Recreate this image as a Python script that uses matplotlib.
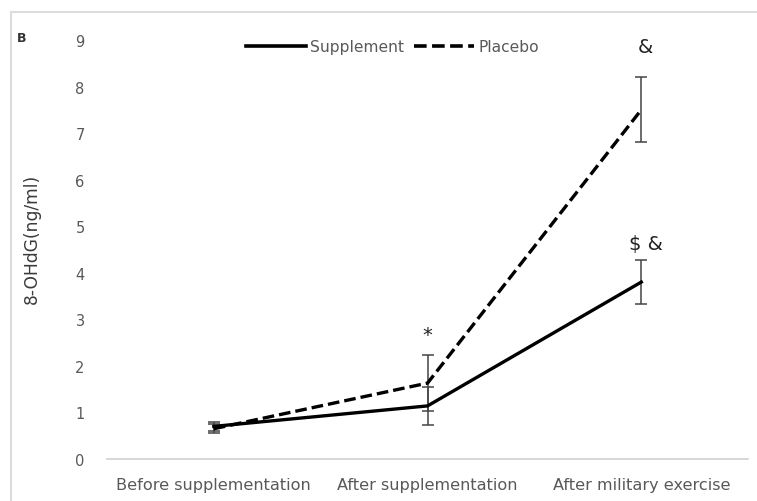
import matplotlib.pyplot as plt
from matplotlib.lines import Line2D

# 8-OHdG values per time point
stages = ['Before supplementation', 'After supplementation', 'After military exercise']
supplement = [0.70, 1.14, 3.80]
supplement_err = [0.10, 0.40, 0.47]
placebo = [0.65, 1.63, 7.50]
placebo_err = [0.10, 0.60, 0.70]
marks = ['', '*', '&']           # above placebo points
marks_supp = ['', '', '$ &']     # above supplement points

plt.rcParams['font.family'] = ['DejaVu Sans']

fig = plt.figure(figsize=(7.57, 5.02), dpi=100)
ax = fig.add_axes([0.1413, 0.0837, 0.847, 0.8347])

x = [0.5, 1.5, 2.5]
ax.errorbar(x, supplement, yerr=supplement_err, color='black', lw=2.4,
            ecolor='#444444', elinewidth=1.1, capsize=4, capthick=1.1, label='Supplement')
ax.errorbar(x, placebo, yerr=placebo_err, color='black', lw=2.4, ls=(0, (3.5, 1.5)),
            ecolor='#444444', elinewidth=1.1, capsize=4, capthick=1.1, label='Placebo')

ax.text(x[1], placebo[1] + placebo_err[1] + 0.45, marks[1], ha='center', va='center',
        fontsize=14, color='#222222')
ax.text(x[2] + 0.02, placebo[2] + placebo_err[2] + 0.65, marks[2], ha='center', va='center',
        fontsize=14, color='#222222')
ax.text(x[2] + 0.02, supplement[2] + supplement_err[2] + 0.35, marks_supp[2], ha='center',
        va='center', fontsize=14, color='#222222')

ax.set_xlim(0, 3)
ax.set_ylim(0, 9)
ax.set_xticks(x)
ax.set_xticklabels(stages)
ax.set_yticks(range(10))
ax.tick_params(axis='both', length=0, colors='#595959')
ax.tick_params(axis='x', pad=13, labelsize=11.6)
ax.tick_params(axis='y', pad=16, labelsize=10.5)
for side in ['top', 'right', 'left']:
    ax.spines[side].set_visible(False)
ax.spines['bottom'].set_color('#d0d0d0')
ax.spines['bottom'].set_linewidth(1.2)

ax.set_ylabel('8-OHdG(ng/ml)', fontsize=12.3, color='#3a3a3a')
ax.yaxis.set_label_coords(-0.103, 0.527)

handles = [Line2D([], [], color='black', lw=2.6),
           Line2D([], [], color='black', lw=2.6, ls=(0, (3.5, 1.5)))]
ax.legend(handles, ['Supplement', 'Placebo'], loc='upper center', ncol=2, frameon=False,
          bbox_to_anchor=(0.445, 1.035), fontsize=11.2, handlelength=3.9, columnspacing=0.6,
          handletextpad=0.25, labelcolor='#595959')

fig.text(22 / 757, 1 - 38 / 502, 'B', fontsize=9, fontweight='bold', color='#333333',
         ha='center', va='center')

# light frame along top and left edges
fig.add_artist(Line2D([11 / 757, 1], [1 - 13 / 502] * 2, color='#dcdcdc', lw=1.5))
fig.add_artist(Line2D([11 / 757] * 2, [0, 1 - 13 / 502], color='#dcdcdc', lw=1.5))

fig.savefig('out.png', dpi=100)
